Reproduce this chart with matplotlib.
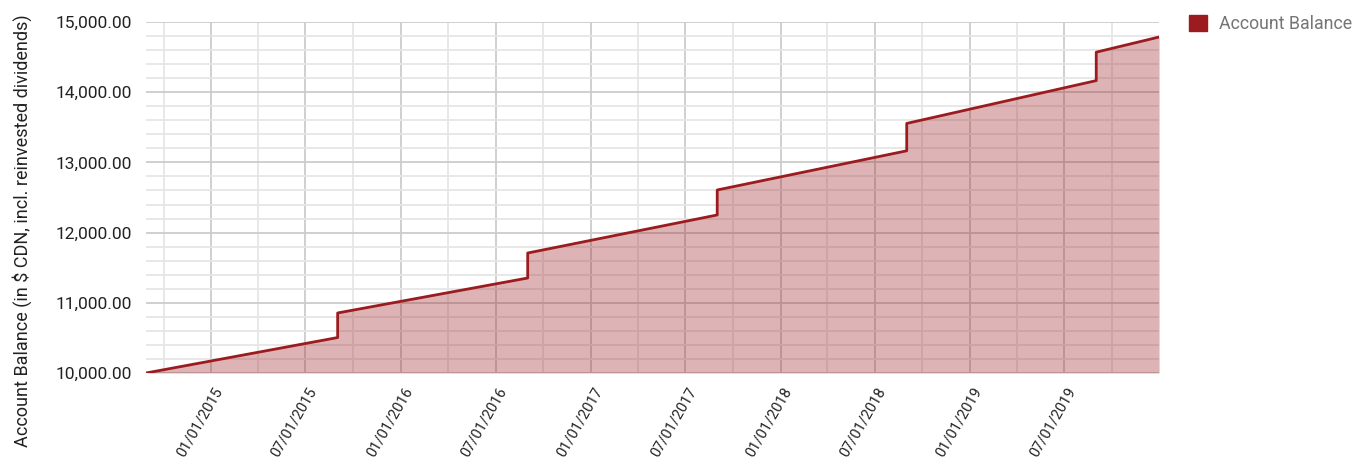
import pandas as pd
import matplotlib
matplotlib.use('Agg')
from matplotlib import pyplot as plt
import matplotlib.dates as mdates
import matplotlib.transforms as mtransforms
from matplotlib.ticker import MultipleLocator, FuncFormatter
from matplotlib.patches import Patch

plt.rcParams['font.family'] = ['Roboto', 'DejaVu Sans']

# balance: each dividend jump is a pair of equal dates
dates = ['2014-08-28', '2015-09-01', '2015-09-01', '2016-09-01', '2016-09-01',
         '2017-09-01', '2017-09-01', '2018-09-01', '2018-09-01',
         '2019-09-01', '2019-09-01', '2019-12-31']
balance = [10000, 10505, 10855, 11353, 11709, 12251, 12607,
           13165, 13555, 14165, 14570, 14786]

x = pd.to_datetime(dates)
line_col = '#9b1b1f'

fig = plt.figure(figsize=(13.55, 4.63), dpi=100)
ax = fig.add_axes([0.1078, 0.1944, 0.7476, 0.7581])

ax.fill_between(x, 10000, balance, color=line_col, alpha=0.33, linewidth=0, zorder=3)
ax.plot(x, balance, color=line_col, linewidth=2, zorder=4)

ax.set_xlim(x[0], x[-1])
ax.set_ylim(10000, 15000)

ax.xaxis.set_major_locator(mdates.MonthLocator(bymonth=[1, 7]))
ax.xaxis.set_minor_locator(mdates.MonthLocator(bymonth=[4, 10]))
ax.xaxis.set_major_formatter(mdates.DateFormatter('%m/%d/%Y'))
ax.yaxis.set_major_locator(MultipleLocator(1000))
ax.yaxis.set_minor_locator(MultipleLocator(200))
ax.yaxis.set_major_formatter(FuncFormatter(lambda v, p: '{:,.2f}'.format(v)))

ax.grid(which='major', color='#cccccc', linewidth=1.3, zorder=1)
ax.grid(which='minor', color='#e6e6e6', linewidth=1.3, zorder=1)
ax.set_axisbelow(True)
for s in ax.spines.values():
    s.set_visible(False)

ax.tick_params(axis='x', which='both', length=0, pad=11, labelsize=10.5, labelcolor='#222222')
ax.tick_params(axis='y', which='both', length=0, pad=10, labelsize=12.5, labelcolor='#222222')
shift = mtransforms.ScaledTranslation(8 / 100, 0, fig.dpi_scale_trans)
for lab in ax.get_xticklabels():
    lab.set_rotation(60)
    lab.set_ha('right')
    lab.set_va('center')
    lab.set_rotation_mode('anchor')
    lab.set_transform(lab.get_transform() + shift)

ax.set_ylabel('Account Balance (in $ CDN, incl. reinvested dividends)',
              fontsize=13, color='#222222')
ax.yaxis.set_label_coords(32 / 1355, 0.501, transform=fig.transFigure)

fig.legend(handles=[Patch(facecolor=line_col, edgecolor=line_col)],
           labels=['Account Balance'], loc='upper left',
           bbox_to_anchor=(0.8655, 1.003), frameon=False,
           handlelength=1.0, handleheight=1.0, handletextpad=0.7,
           fontsize=12.8, labelcolor='#757575')

fig.savefig('out.png', dpi=100)
